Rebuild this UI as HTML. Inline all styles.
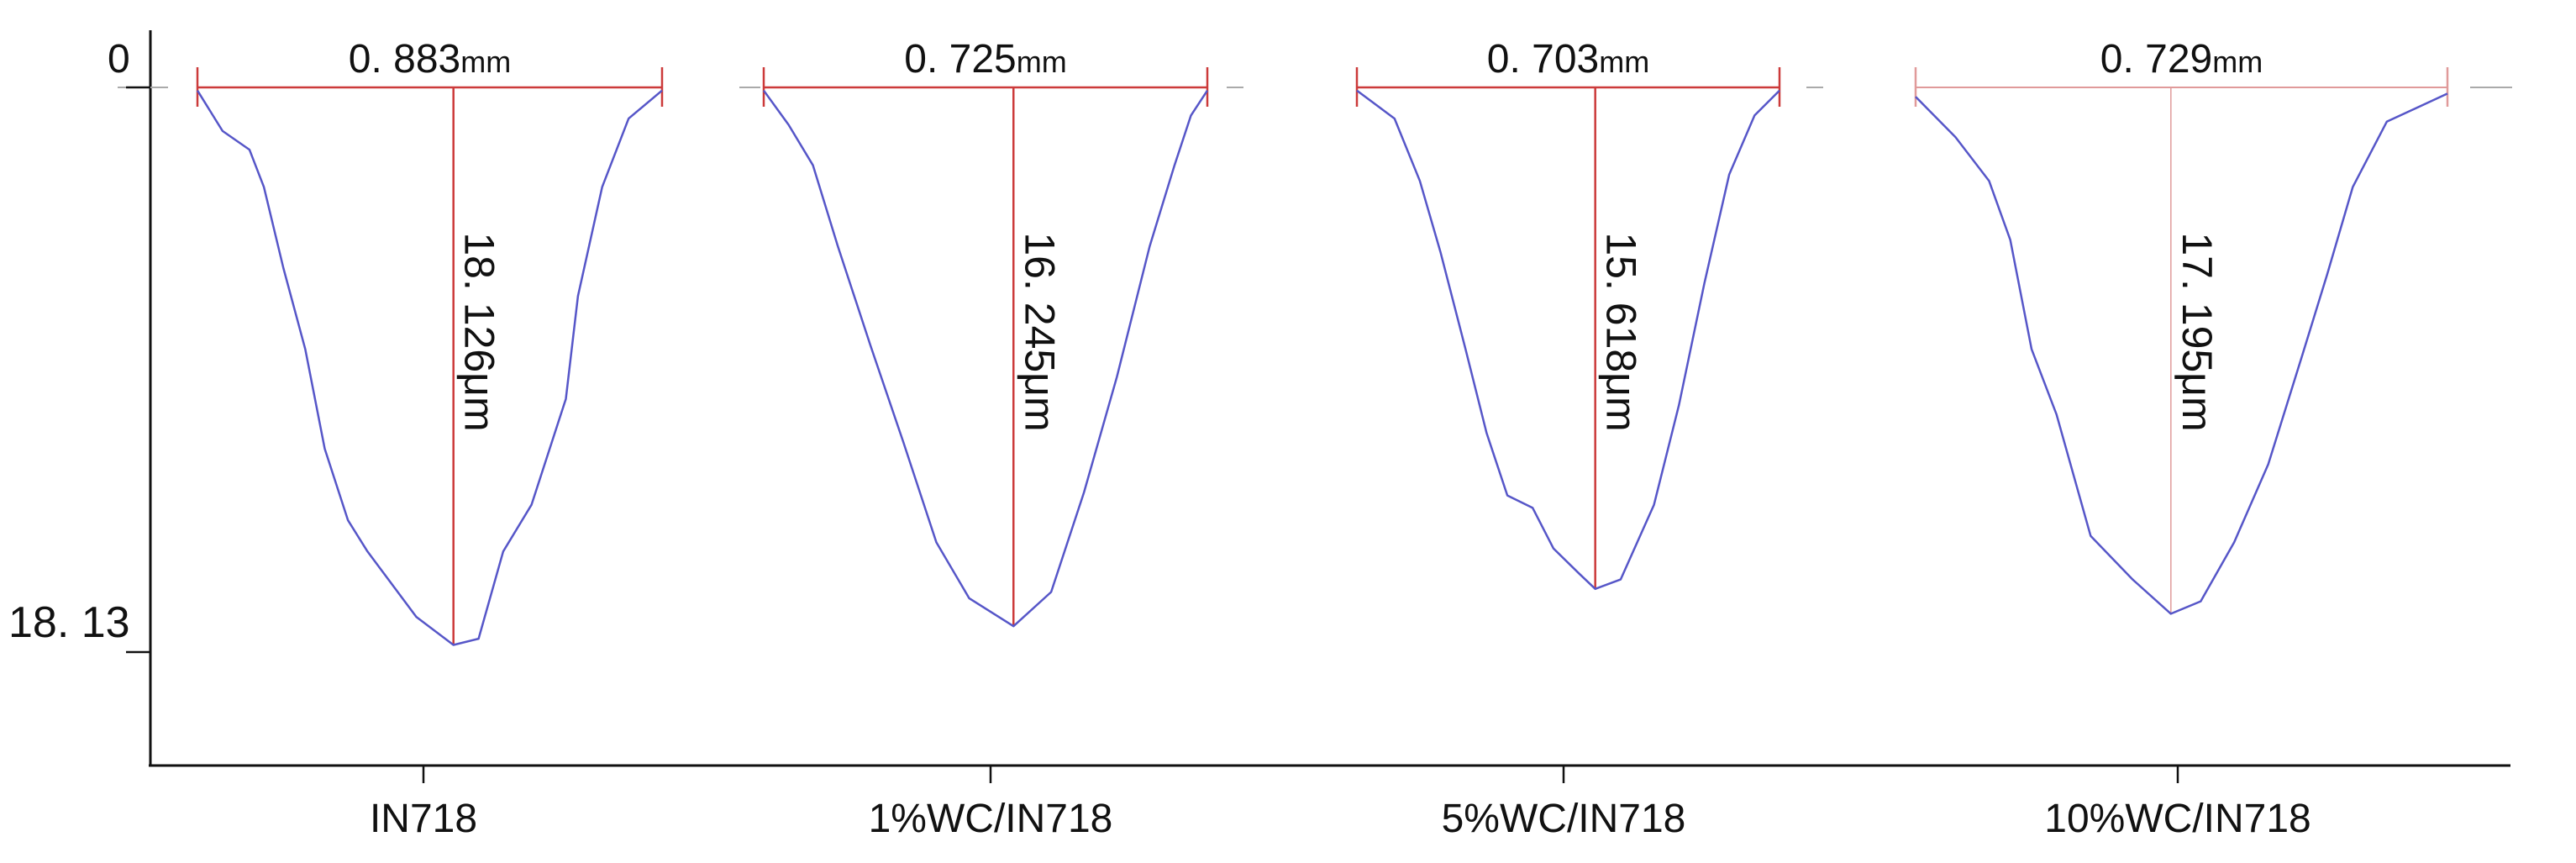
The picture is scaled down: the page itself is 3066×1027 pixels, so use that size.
<!DOCTYPE html>
<html><head><meta charset="utf-8"><style>
html,body{margin:0;padding:0;background:#fff;}
svg{display:block;}
text{font-family:"Liberation Sans",sans-serif;fill:#111;}
</style></head><body>
<svg id="chart" width="3066" height="1027" viewBox="0 0 3066 1027" xmlns="http://www.w3.org/2000/svg">
<g id="axes">
<line x1="179" y1="36" x2="179" y2="912" stroke="#111" stroke-width="3"/>
<line x1="177" y1="911" x2="2988" y2="911" stroke="#111" stroke-width="3"/>
</g>
<g id="plot"></g>
</svg>
<script>
const categories=["IN718","1%WC/IN718","5%WC/IN718","10%WC/IN718"];
const widthLabels=["0. 883","0. 725","0. 703","0. 729"];
const depthLabels=["18. 126","16. 245","15. 618","17. 195"];
const yTickValues=[0,18.13];
const yTickLabels=["0","18. 13"];
const pos1=[0,0.054,0.112,0.143,0.185,0.232,0.274,0.324,0.366,0.471,0.551,0.605,0.658,0.719,0.793,0.819,0.871,0.928,1];
const dep1=[0.1,1.4,2.0,3.2,5.8,8.4,11.6,13.9,14.9,17.0,17.9,17.7,14.9,13.4,10.0,6.7,3.2,1.0,0.1];
const pos2=[0,0.056,0.111,0.167,0.241,0.315,0.389,0.463,0.563,0.648,0.722,0.796,0.870,0.926,0.963,1];
const dep2=[0.1,1.2,2.5,5.1,8.3,11.4,14.6,16.4,17.3,16.2,13.0,9.3,5.1,2.5,0.9,0.1];
const pos3=[0,0.089,0.149,0.198,0.257,0.307,0.356,0.416,0.465,0.525,0.564,0.624,0.703,0.762,0.822,0.881,0.941,1];
const dep3=[0.1,1.0,3.0,5.3,8.4,11.1,13.1,13.5,14.8,15.6,16.1,15.8,13.4,10.2,6.3,2.8,0.9,0.1];
const pos4=[0,0.075,0.138,0.178,0.218,0.265,0.329,0.408,0.480,0.536,0.599,0.663,0.727,0.774,0.822,0.886,1];
const dep4=[0.3,1.6,3.0,4.9,8.4,10.5,14.4,15.8,16.9,16.5,14.6,12.1,8.6,6.0,3.2,1.1,0.2];

const positions=[pos1,pos2,pos3,pos4];
const depths=[dep1,dep2,dep3,dep4];
const spans=[[235,788],[909,1437],[1615,2118],[2280,2913]];
const catTicks=[504,1179,1861,2592];
const NS="http://www.w3.org/2000/svg";
const g=document.getElementById('plot');
function y(d){return 104+d*(776-104)/18.13;}
function mk(tag,attrs){const e=document.createElementNS(NS,tag);for(const k in attrs)e.setAttribute(k,attrs[k]);g.appendChild(e);return e;}

// zero reference dashes
[[140,200],[880,905],[1460,1480],[2150,2170],[2940,2990]].forEach(s=>{
  const l=mk('line',{x1:s[0],y1:104,x2:s[1],y2:104,stroke:'#aaa','stroke-width':2});
  
  
});

yTickValues.forEach((v,i)=>{
  const t=mk('line',{x1:150,y1:y(v),x2:179,y2:y(v),stroke:'#111','stroke-width':2.5});
  
  
  const tx=mk('text',{x:i==0?128:10,y:y(v)-18,'font-size':i==0?48:52});
  tx.textContent=yTickLabels[i];
  
  
});

categories.forEach((c,i)=>{
  const [x0,x1]=spans[i];
  const pos=positions[i],dep=depths[i];
  const xs=p=>x0+p*(x1-x0);
  let mi=0;dep.forEach((d,j)=>{if(d>dep[mi])mi=j;});
  const cx=xs(pos[mi]);
  const col=i==3?'#e09a9a':'#cc3a3a';
  const h=mk('line',{x1:x0,y1:104,x2:x1,y2:104,stroke:col,'stroke-width':i==3?2:2.5});
  
  
  [x0,x1].forEach(xx=>{
    const cap=mk('line',{x1:xx,y1:80,x2:xx,y2:127,stroke:col,'stroke-width':2.5});
    
    
  });
  const v=mk('line',{x1:cx,y1:104,x2:cx,y2:y(dep[mi]),stroke:col,'stroke-width':i==3?1.5:2.5});
  
  
  const d=pos.map((p,j)=>(j?'L':'M')+xs(p).toFixed(1)+' '+y(dep[j]).toFixed(1)).join(' ');
  const path=mk('path',{d:d,fill:'none',stroke:'#5656c8','stroke-width':2.5,'stroke-linejoin':'round'});
  
  
  const wl=mk('text',{x:(x0+x1)/2,y:86,'font-size':48,'text-anchor':'middle'});
  wl.innerHTML=widthLabels[i]+'<tspan font-size="36">mm</tspan>';
  
  
  const dl=mk('text',{x:0,y:0,'font-size':50,'text-anchor':'middle',transform:`translate(${cx+14},395) rotate(90)`});
  dl.textContent=depthLabels[i]+'\u03bcm';
  
  
  const tk=mk('line',{x1:catTicks[i],y1:911,x2:catTicks[i],y2:932,stroke:'#111','stroke-width':2.5});
  
  
  const cl=mk('text',{x:catTicks[i],y:990,'font-size':48,'text-anchor':'middle'});
  cl.textContent=c;
  
  
});
</script>
</body></html>
